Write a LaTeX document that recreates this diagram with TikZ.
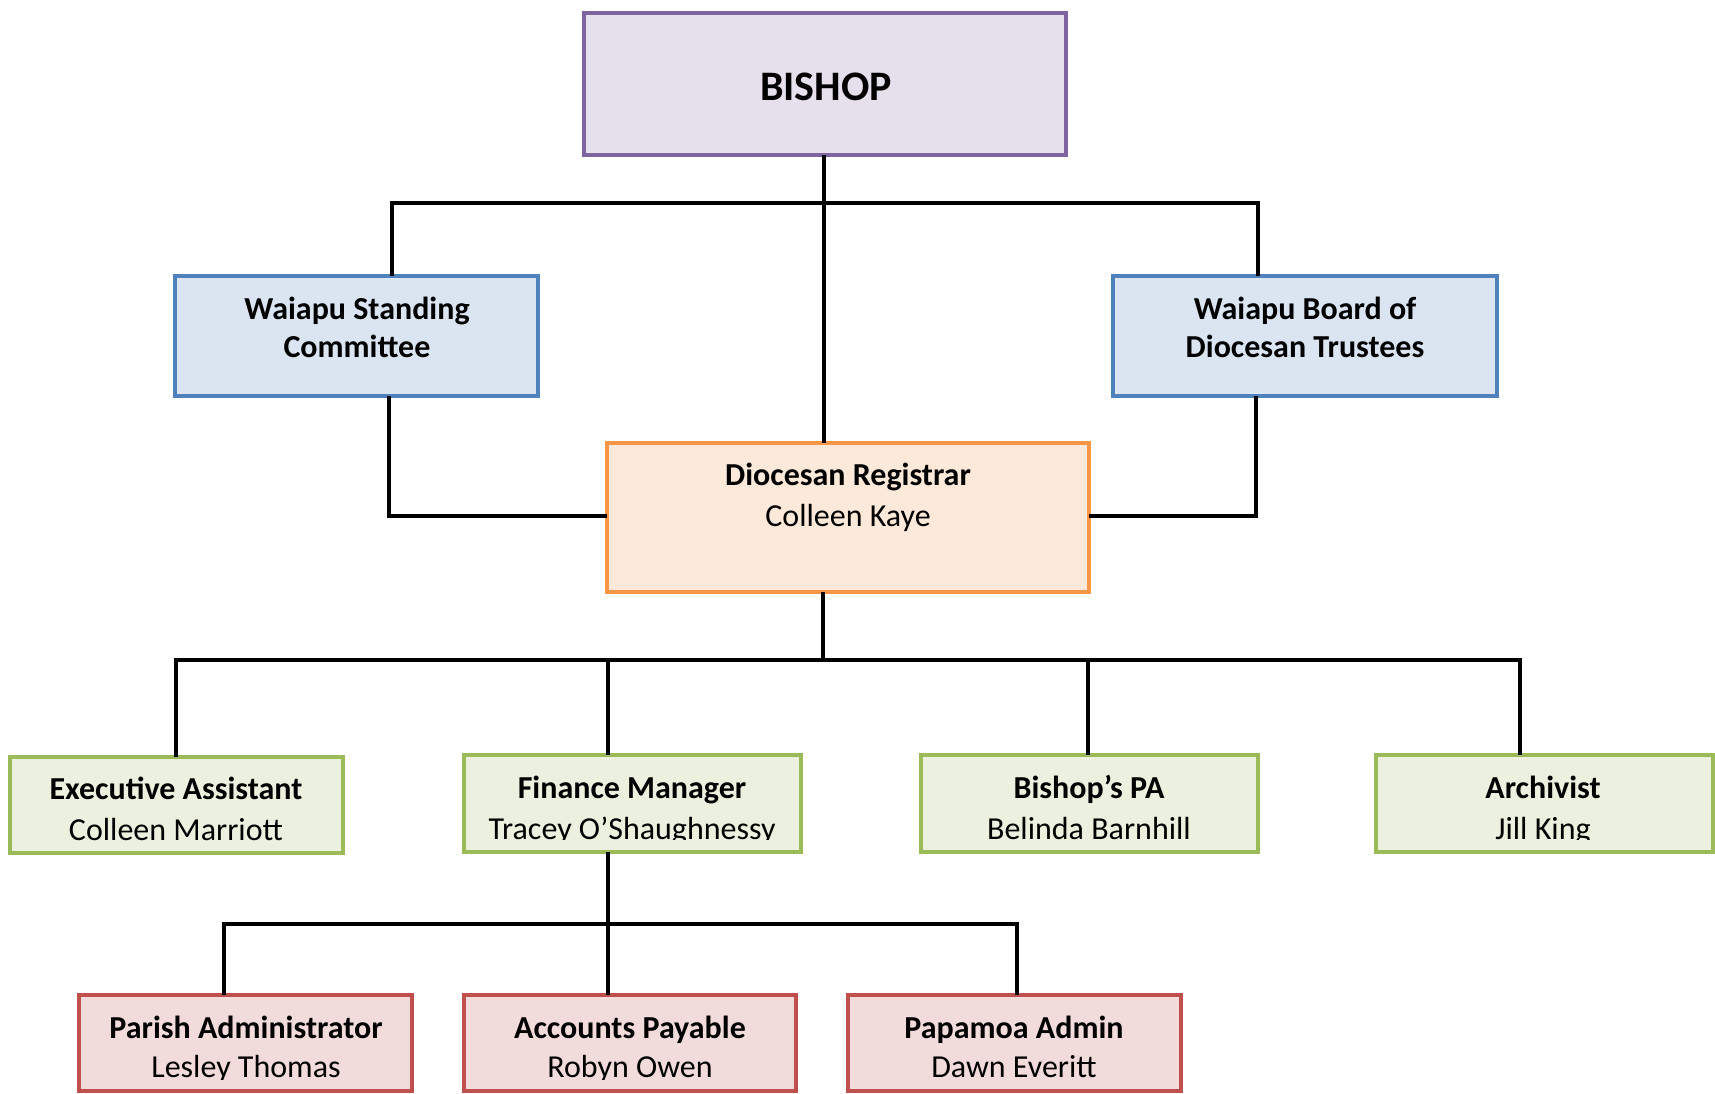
\documentclass[tikz,border=0pt]{standalone}
\usepackage{fontspec}
\setmainfont{Carlito}
\usetikzlibrary{calc}
\definecolor{purpB}{HTML}{8064A2}\definecolor{purpF}{HTML}{E5E0EC}
\definecolor{blueB}{HTML}{4F81BD}\definecolor{blueF}{HTML}{DBE5F1}
\definecolor{orB}{HTML}{F79646}\definecolor{orF}{HTML}{FDE9D9}
\definecolor{grB}{HTML}{9BBB59}\definecolor{grF}{HTML}{EBF1DE}
\definecolor{rdB}{HTML}{C0504D}\definecolor{rdF}{HTML}{F2DCDB}
\tikzset{
  box/.style={rectangle, line width=4pt, outer sep=0pt, inner sep=0pt, anchor=north west},
  purpbox/.style={box, draw=purpB, fill=purpF},
  bluebox/.style={box, draw=blueB, fill=blueF},
  orbox/.style={box, draw=orB, fill=orF},
  grbox/.style={box, draw=grB, fill=grF},
  rdbox/.style={box, draw=rdB, fill=rdF},
  conn/.style={line width=4pt, black},
  ttwo/.style={align=center, font=\fontsize{32}{38}\selectfont\bfseries, inner sep=0pt},
  treg/.style={align=center, font=\fontsize{32}{41}\selectfont, inner sep=0pt},
  tthree/.style={align=center, font=\fontsize{32}{41}\selectfont, inner sep=0pt},
  tfour/.style={align=center, font=\fontsize{32}{39}\selectfont, inner sep=0pt},
}
\begin{document}
\begin{tikzpicture}[x=1pt,y=-1pt]
\useasboundingbox (0,0) rectangle (1715,1094);
% boxes
\node[purpbox, minimum width=482, minimum height=142] (bishop) at (584,13) {};
\node[bluebox, minimum width=363, minimum height=120] (ws) at (175,276) {};
\node[bluebox, minimum width=384, minimum height=120] (bt) at (1113,276) {};
\node[orbox, minimum width=482, minimum height=149] (reg) at (607,443) {};
\node[grbox, minimum width=333, minimum height=96] (exec) at (10,757) {};
\node[grbox, minimum width=337, minimum height=97] (fin) at (464,755) {};
\node[grbox, minimum width=337, minimum height=97] (pa) at (921,755) {};
\node[grbox, minimum width=337, minimum height=97] (arch) at (1376,755) {};
\node[rdbox, minimum width=333, minimum height=96] (par) at (79,995) {};
\node[rdbox, minimum width=332, minimum height=96] (acc) at (464,995) {};
\node[rdbox, minimum width=333, minimum height=96] (pap) at (848,995) {};
% texts
\node[font=\fontsize{42}{50}\selectfont\bfseries, inner sep=0pt, anchor=base] (tbishop) at (826,101) {BISHOP};
\node[ttwo] (tws) at (357,330.5) {\strut Waiapu Standing\\Committee\strut};
\node[ttwo] (tbt) at (1305,330.5) {\strut Waiapu Board of\\Diocesan Trustees\strut};
\node[treg] (treg) at (848,498) {\strut\textbf{Diocesan Registrar}\\Colleen Kaye\strut};
\begin{scope}
\clip (0,740) rectangle (1715,841);
\node[tthree] (texec) at (176,812) {\strut\textbf{Executive Assistant}\\Colleen Marriott\strut};
\end{scope}
\begin{scope}
\clip (0,740) rectangle (1715,839.5);
\node[tthree] (tfin) at (632,810.3) {\strut\textbf{Finance Manager}\\Tracey O’Shaughnessy\strut};
\node[tthree] (tpa) at (1089,810.3) {\strut\textbf{Bishop’s PA}\\Belinda Barnhill\strut};
\node[tthree] (tarch) at (1543,810.3) {\strut\textbf{Archivist}\\Jill King\strut};
\end{scope}
\begin{scope}
\clip (0,1000) rectangle (1715,1079);
\node[tfour] (tpar) at (246,1050.5) {\strut\textbf{Parish Administrator}\\Lesley Thomas\strut};
\node[tfour] (tacc) at (630,1050.5) {\strut\textbf{Accounts Payable}\\Robyn Owen\strut};
\node[tfour] (tpap) at (1014,1050.5) {\strut\textbf{Papamoa Admin}\\Dawn Everitt\strut};
\end{scope}
% junction coordinates
\coordinate (jb) at (824,203);
\coordinate (jwl) at (392,203);
\coordinate (jwr) at (1258,203);
\coordinate (jsl) at (389,516);
\coordinate (jsr) at (1256,516);
\coordinate (jr) at (823,660);
\coordinate (j3a) at (176,660);
\coordinate (j3b) at (608,660);
\coordinate (j3c) at (1088,660);
\coordinate (j3d) at (1520,660);
\coordinate (jf) at (608,924);
\coordinate (j4a) at (224,924);
\coordinate (j4c) at (1017,924);
% connectors
\draw[conn] (bishop.south -| jb) -- (jb |- reg.north);
\draw[conn] (jwl |- ws.north) -- (jwl) -- (jwr) -- (jwr |- bt.north);
\draw[conn] (jsl |- ws.south) -- (jsl) -- (jsl -| reg.west);
\draw[conn] (jsr |- bt.south) -- (jsr) -- (jsr -| reg.east);
\draw[conn] (jr |- reg.south) -- (jr);
\draw[conn] (j3a |- exec.north) -- (j3a) -- (j3d) -- (j3d |- arch.north);
\draw[conn] (j3b) -- (j3b |- fin.north);
\draw[conn] (j3c) -- (j3c |- pa.north);
\draw[conn] (jf |- fin.south) -- (jf);
\draw[conn] (j4a |- par.north) -- (j4a) -- (j4c) -- (j4c |- pap.north);
\draw[conn] (jf) -- (jf |- acc.north);
\end{tikzpicture}
\end{document}
